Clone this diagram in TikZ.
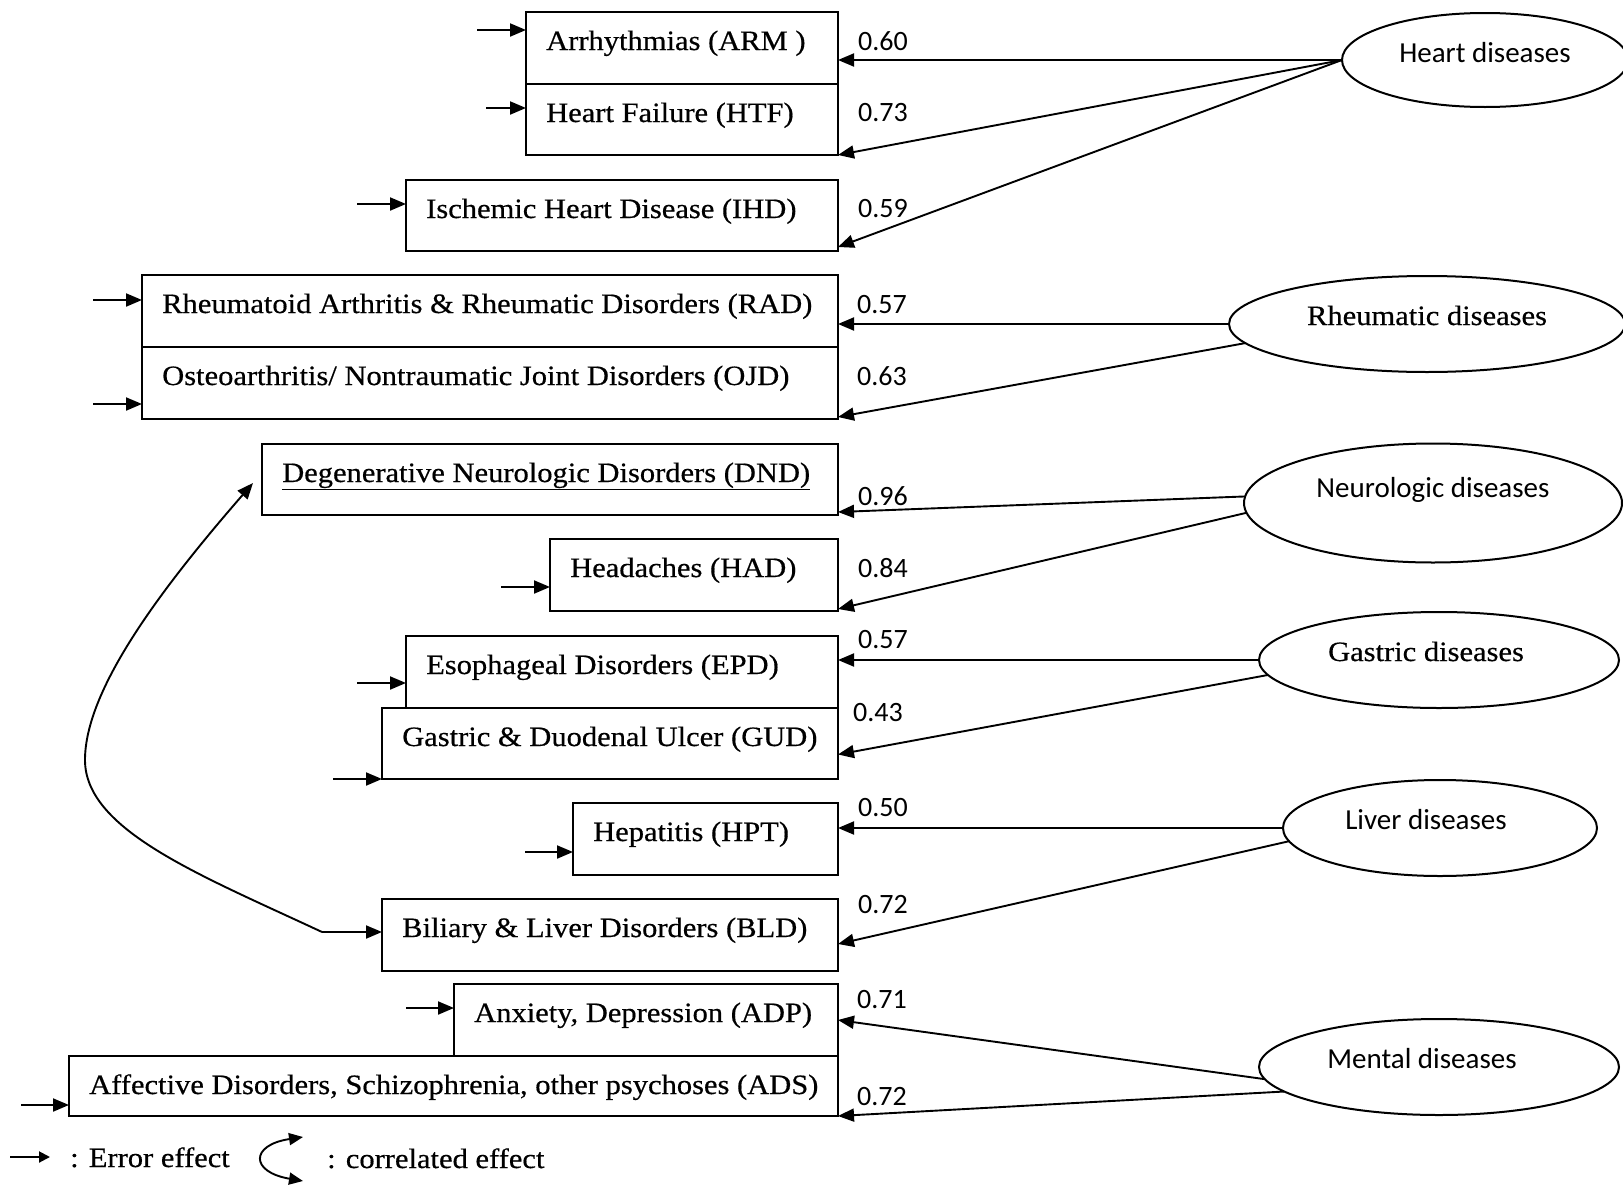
\documentclass[tikz,border=0pt]{standalone}
\usepackage{fontspec}
\setmainfont{Liberation Serif}[FakeStretch=1.09,FakeBold=0.5]
\newfontfamily\calib{Carlito}
\usetikzlibrary{arrows.meta,shapes.geometric,calc}

\newcommand\serifsize{\fontsize{28}{30}\selectfont}
\newcommand\sanssize{\calib\fontsize{29}{31}\selectfont}
\newcommand\coefsize{\calib\fontsize{28}{30}\selectfont}

\tikzset{
  box/.style={draw, line width=2pt, anchor=north west, inner sep=0pt, outer sep=0pt},
  boxtext/.style={anchor=base west, inner sep=0pt, font=\serifsize},
  latent/.style={draw, ellipse, line width=2pt, inner sep=0pt, outer sep=0pt},
  seriflbl/.style={anchor=base, inner sep=0pt, font=\serifsize},
  sanslbl/.style={anchor=base, inner sep=0pt, font=\sanssize},
  coef/.style={anchor=base west, inner sep=0pt, font=\coefsize},
  load/.style={line width=1.9pt, -{Triangle[length=16pt,width=13pt]}},
  err/.style={line width=2pt, -{Triangle[length=16pt,width=13pt]}},
}

% observed indicator: name, left, top, width, height, text
\newcommand\dbox[6]{%
  \node[box, minimum width=#4pt, minimum height=#5pt] (#1) at (#2,#3) {};
  \node[boxtext] (#1-t) at ($(#1.north west)+(20,38)$) {#6};
}

\begin{document}
\begin{tikzpicture}[x=1pt,y=-1pt]
\useasboundingbox (0,0) rectangle (1623,1186);

% observed indicators
\dbox{arm}{526}{12}{312}{72}{Arrhythmias (ARM )}
\dbox{htf}{526}{84}{312}{71}{Heart Failure (HTF)}
\dbox{ihd}{406}{180}{432}{71}{Ischemic Heart Disease (IHD)}
\dbox{rad}{142}{275}{696}{72}{Rheumatoid Arthritis \& Rheumatic Disorders (RAD)}
\dbox{ojd}{142}{347}{696}{72}{Osteoarthritis/ Nontraumatic Joint Disorders (OJD)}
\dbox{dnd}{262}{444}{576}{71}{\underline{Degenerative Neurologic Disorders (DND)}}
\dbox{had}{550}{539}{288}{72}{Headaches (HAD)}
\dbox{epd}{406}{636}{432}{72}{Esophageal Disorders (EPD)}
\dbox{gud}{382}{708}{456}{71}{Gastric \& Duodenal Ulcer (GUD)}
\dbox{hpt}{573}{803}{265}{72}{Hepatitis (HPT)}
\dbox{bld}{382}{899}{456}{72}{Biliary \& Liver Disorders (BLD)}
\dbox{adp}{454}{984}{384}{72}{Anxiety, Depression (ADP)}
\dbox{ads}{69}{1056}{769}{60}{Affective Disorders, Schizophrenia, other psychoses (ADS)}

% latent factors
\node[latent, minimum width=286pt, minimum height=94pt] (heart) at (1485,60) {};
\node[latent, minimum width=396pt, minimum height=96pt] (rheum) at (1427,324) {};
\node[latent, minimum width=378pt, minimum height=119pt] (neuro) at (1433,503) {};
\node[latent, minimum width=360pt, minimum height=96pt] (gastric) at (1439,660) {};
\node[latent, minimum width=314pt, minimum height=96pt] (liver) at (1440,828) {};
\node[latent, minimum width=360pt, minimum height=96pt] (mental) at (1439,1067) {};

\node[sanslbl] (heart-t) at (1485,62) {Heart diseases};
\node[seriflbl] (rheum-t) at (1427,325) {Rheumatic diseases};
\node[sanslbl] (neuro-t) at (1433,497) {Neurologic diseases};
\node[seriflbl] (gastric-t) at (1426,661) {Gastric diseases};
\node[sanslbl] (liver-t) at (1426,829) {Liver diseases};
\node[sanslbl] (mental-t) at (1422,1068) {Mental diseases};

% factor loadings
\draw[load] (heart.west) -- (heart.west -| arm.east);
\draw[load] (heart.west) -- (htf.south east);
\draw[load] (heart.west) -- ($(ihd.south east)+(0,-4)$);
\draw[load] (rheum.west) -- (rheum.west -| rad.east);
\draw[load] (rheum.186) -- ($(ojd.south east)+(0,-2)$);
\draw[load] (neuro.178) -- ($(dnd.south east)+(0,-3)$);
\draw[load] (neuro.183) -- ($(had.south east)+(0,-2)$);
\draw[load] (gastric.west) -- (gastric.west -| epd.east);
\draw[load] (gastric.185) -- ($(gud.east)+(0,11)$);
\draw[load] (liver.west) -- (liver.west -| hpt.east);
\draw[load] (liver.185) -- ($(bld.east)+(0,9)$);
\draw[load] (mental.184) -- (adp.east);
\draw[load] (mental.189) -- (ads.south east);

% loading values
\node[coef] (c-arm) at (858,50) {0.60};
\node[coef] (c-htf) at (858,121) {0.73};
\node[coef] (c-ihd) at (858,217) {0.59};
\node[coef] (c-rad) at (857,313) {0.57};
\node[coef] (c-ojd) at (857,385) {0.63};
\node[coef] (c-dnd) at (858,505) {0.96};
\node[coef] (c-had) at (858,577) {0.84};
\node[coef] (c-epd) at (858,648) {0.57};
\node[coef] (c-gud) at (853,721) {0.43};
\node[coef] (c-hpt) at (858,816) {0.50};
\node[coef] (c-bld) at (858,913) {0.72};
\node[coef] (c-adp) at (857,1008) {0.71};
\node[coef] (c-ads) at (857,1105) {0.72};

% error terms
\coordinate (e-arm) at (477,30);
\coordinate (e-htf) at (486,108);
\coordinate (e-ihd) at (357,204);
\coordinate (e-rad) at (93,300);
\coordinate (e-ojd) at (93,404);
\coordinate (e-had) at (501,587);
\coordinate (e-epd) at (357,683);
\coordinate (e-gud) at (333,779);
\coordinate (e-hpt) at (525,852);
\coordinate (e-adp) at (406,1008);
\coordinate (e-ads) at (21,1105);
\foreach \b in {arm,htf,ihd,rad,ojd,had,epd,gud,hpt,adp,ads}
  \draw[err] (e-\b) -- (e-\b -| \b.west);

% correlated errors of DND and BLD
\coordinate (corr-base) at (322,932);
\coordinate (corr-tip) at (253,483);
\draw[line width=1.9pt, -{Triangle[length=16pt,width=13pt]}]
  (corr-base) .. controls (200,875) and (85,830) .. (85,760)
  .. controls (85,690) and (160,590) .. (corr-tip);
\draw[err] (corr-base) -- (corr-base -| bld.west);

% legend
\coordinate (lg-a) at (10,1157);
\coordinate (lg-b) at (50,1157);
\draw[line width=2pt, -{Triangle[length=11pt,width=11pt]}] (lg-a) -- (lg-b);
\node[boxtext] (lg-err) at (70,1167) {: Error effect};
\coordinate (lg-top) at (303,1137);
\coordinate (lg-bot) at (303,1181);
\draw[line width=1.9pt, {Triangle[length=14pt,width=12pt]}-{Triangle[length=14pt,width=12pt]}]
  (lg-top) .. controls (250,1145) and (250,1172) .. (lg-bot);
\node[boxtext] (lg-corr) at (327,1168) {: correlated effect};
\end{tikzpicture}
\end{document}
